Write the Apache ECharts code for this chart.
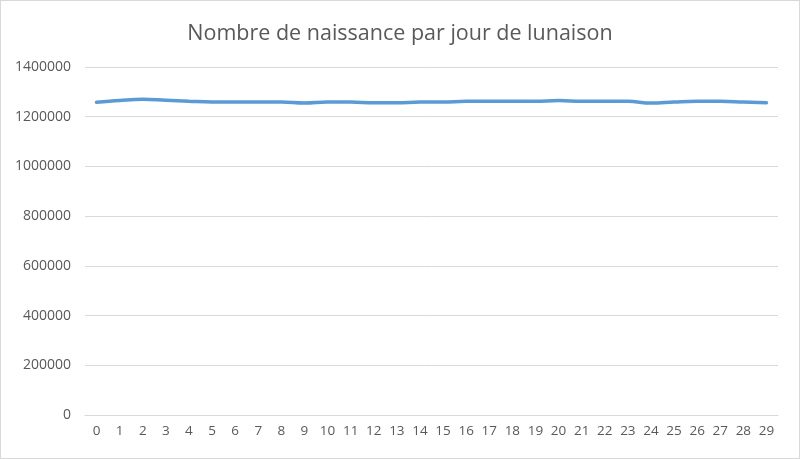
<!DOCTYPE html>
<html><head><meta charset="utf-8">
<script src="https://cdn.jsdelivr.net/npm/echarts@6/dist/echarts.min.js"></script>
<style>html,body{margin:0;padding:0;background:#fff}#c{width:800px;height:459px;box-sizing:border-box;border:1px solid #d9d9d9}</style>
</head><body><div id="c"></div>
<script>
const days = ['0','1','2','3','4','5','6','7','8','9','10','11','12','13','14','15','16','17','18','19','20','21','22','23','24','25','26','27','28','29'];
const births = [1258000,1265000,1270000,1266000,1262000,1259000,1259000,1259000,1259000,1255000,1259000,1259000,1256000,1256000,1259000,1259000,1262000,1262000,1262000,1262000,1265000,1262000,1262000,1262000,1255000,1259000,1262000,1262000,1259000,1256000];
const chart = echarts.init(document.getElementById('c'));
chart.setOption({
  animation:false,
  title:{text:'Nombre de naissance par jour de lunaison',left:'center',top:17,textStyle:{fontFamily:'Open Sans',fontSize:21.5,fontWeight:'normal',color:'#595959'}},
  grid:{left:84,right:21,top:66,bottom:43},
  xAxis:{type:'category',data:days,boundaryGap:true,axisTick:{show:false},axisLine:{lineStyle:{color:'#d9d9d9'}},axisLabel:{color:'#595959',fontSize:13.5,fontFamily:'Open Sans',margin:9}},
  yAxis:{type:'value',min:0,max:1400000,interval:200000,axisLine:{show:false},axisTick:{show:false},splitLine:{lineStyle:{color:'#d9d9d9'}},axisLabel:{color:'#595959',fontSize:14,fontFamily:'Open Sans',margin:14,formatter:v=>String(v)}},
  series:[{type:'line',data:births,smooth:0.4,symbol:'none',lineStyle:{color:'#5b9bd5',width:3.5,cap:'round'}}]
});
</script></body></html>
